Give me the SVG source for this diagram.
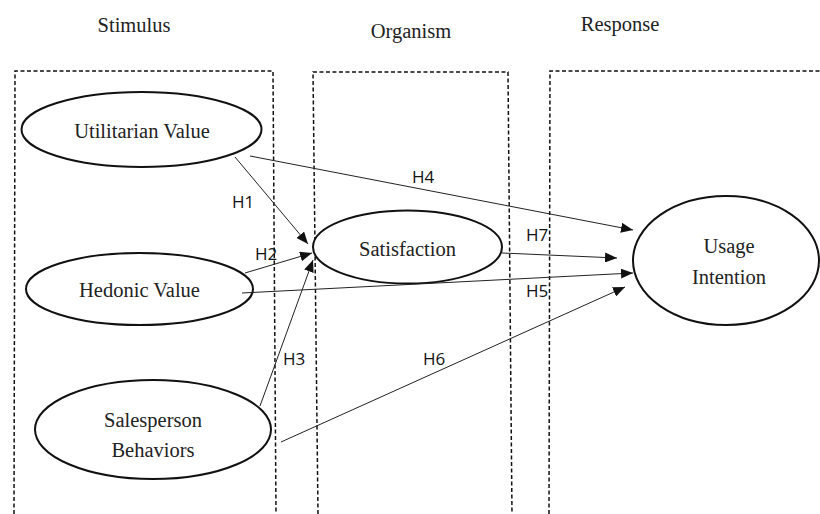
<svg xmlns="http://www.w3.org/2000/svg" width="820" height="514" viewBox="0 0 820 514">
<style>
.bg{fill:#fff}
.box{fill:none;stroke:#111;stroke-width:1.5;stroke-dasharray:4 2.5}
.node{fill:#fff;stroke:#111;stroke-width:2}
.t{font-family:"Liberation Serif","Times New Roman",serif;font-size:20.5px;fill:#222;text-anchor:middle}
.h{font-family:"Open Sans","Liberation Sans",sans-serif;font-size:17px;fill:#111}
.c{fill:none;stroke:#222;stroke-width:1;marker-end:url(#ah)}
</style>
<defs>
<marker id="ah" markerUnits="userSpaceOnUse" markerWidth="12" markerHeight="10" refX="12" refY="5" orient="auto">
<path d="M0,0 L12,5 L0,10 z" fill="#111"/>
</marker>
</defs>
<rect class="bg" width="820" height="514"/>
<g id="regions">
<path class="box" d="M14,514 L15,71 L273,71 L276,514"/>
<path class="box" d="M318,514 L313,72 L508,72 L512,514"/>
<path class="box" d="M549,514 L550,71 L820,71"/>
<text class="t" x="134" y="32">Stimulus</text>
<text class="t" x="411" y="38">Organism</text>
<text class="t" x="620" y="31">Response</text>
</g>
<g id="utilitarian">
<ellipse class="node" cx="141.5" cy="129.5" rx="120" ry="37.5"/>
<text class="t" x="142" y="138">Utilitarian Value</text>
</g>
<g id="hedonic">
<ellipse class="node" cx="139.5" cy="289" rx="113.5" ry="36"/>
<text class="t" x="139.5" y="297">Hedonic Value</text>
</g>
<g id="salesperson">
<ellipse class="node" cx="153" cy="429.5" rx="118" ry="49.5"/>
<text class="t" x="153" y="427">Salesperson</text>
<text class="t" x="153" y="457">Behaviors</text>
</g>
<g id="satisfaction">
<ellipse class="node" cx="407.5" cy="247" rx="94.5" ry="36.5"/>
<text class="t" x="407.5" y="256">Satisfaction</text>
</g>
<g id="usage">
<ellipse class="node" cx="726" cy="260.5" rx="93" ry="64.5"/>
<text class="t" x="729" y="253">Usage</text>
<text class="t" x="729" y="284">Intention</text>
</g>
<g id="connectors">
<line class="c" x1="235" y1="157" x2="308" y2="244"/>
<line class="c" x1="245" y1="273" x2="312" y2="253"/>
<line class="c" x1="260" y1="406" x2="313" y2="260"/>
<line class="c" x1="250" y1="156" x2="633" y2="230"/>
<line class="c" x1="242" y1="293" x2="633" y2="273"/>
<line class="c" x1="281" y1="442" x2="625" y2="287"/>
<line class="c" x1="502" y1="253" x2="617" y2="258"/>
<text class="h" x="232" y="208">H1</text>
<text class="h" x="255" y="260">H2</text>
<text class="h" x="283" y="365">H3</text>
<text class="h" x="412" y="183">H4</text>
<text class="h" x="526" y="297">H5</text>
<text class="h" x="423" y="365">H6</text>
<text class="h" x="526" y="241">H7</text>
</g>
</svg>
